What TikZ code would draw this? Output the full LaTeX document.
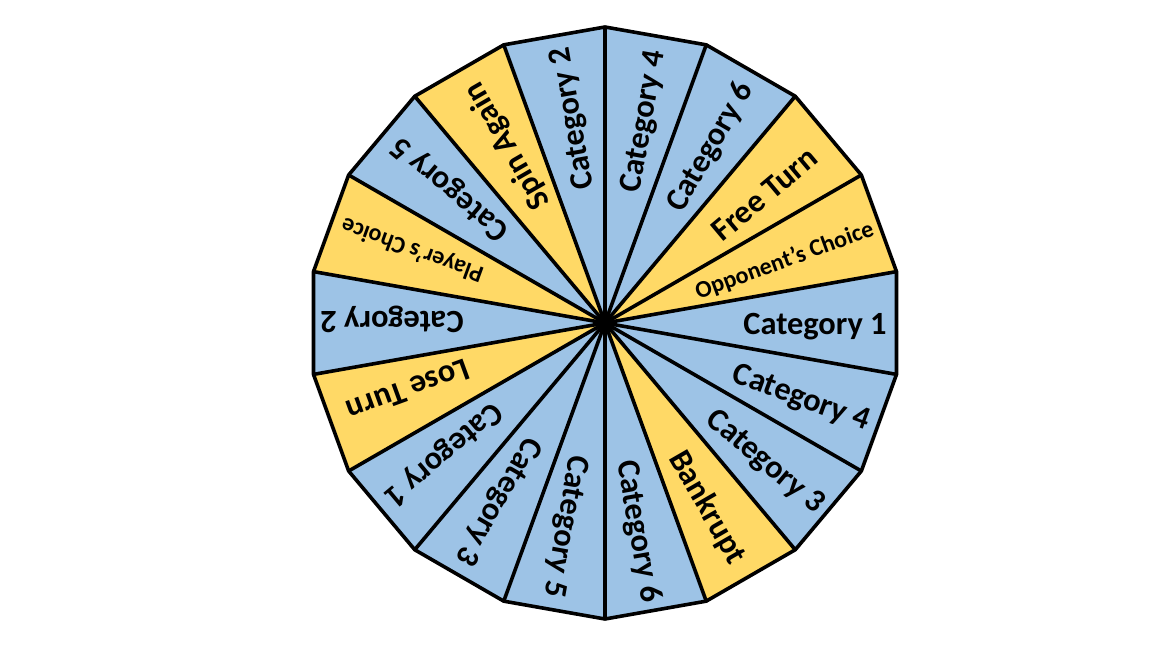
\documentclass[tikz,border=0pt]{standalone}
\usepackage{fontspec}
\setmainfont{Carlito}
\definecolor{wblue}{HTML}{9DC3E6}
\definecolor{wyellow}{HTML}{FFD966}
\begin{document}
\begin{tikzpicture}[x=0.8333pt,y=0.8333pt,
  edge/.style={draw=black,line width=3pt,line join=round},
  big/.style={font=\bfseries\fontsize{27}{32}\selectfont,inner sep=0pt},
  small/.style={font=\bfseries\fontsize{20}{24}\selectfont,inner sep=0pt}]
\useasboundingbox (-605,-325) rectangle (547,323);
\coordinate (c) at (0,0);
\def\R{296}
\foreach \a/\col in {0/wblue,20/wyellow,40/wyellow,60/wblue,80/wblue,100/wblue,120/wyellow,140/wblue,160/wyellow,180/wblue,200/wyellow,220/wblue,240/wblue,260/wblue,280/wblue,300/wyellow,320/wblue,340/wblue}
  {\fill[\col] (c) -- (\a-10:\R) -- (\a+10:\R) -- cycle;}
\foreach \a in {10,30,...,350} {\draw[edge] (c) -- (\a:\R);}
\draw[edge] (10:\R) \foreach \a in {30,50,...,350} {-- (\a:\R)} -- cycle;
\node[big,rotate=0]     (t0)   at ([shift={(-90:4)}]0:210)    {Category 1};
\node[small,rotate=20]  (t20)  at ([shift={(-70:3)}]20:190)   {Opponent’s Choice};
\node[big,rotate=40]    (t40)  at ([shift={(-50:4)}]40:205)   {Free Turn};
\node[big,rotate=60]    (t60)  at ([shift={(-30:4)}]60:205)   {Category 6};
\node[big,rotate=80]    (t80)  at ([shift={(-10:4)}]80:205)   {Category 4};
\node[big,rotate=100]   (t100) at ([shift={(10:4)}]100:207)   {Category 2};
\node[big,rotate=120]   (t120) at ([shift={(30:4)}]120:202)   {Spin Again};
\node[big,rotate=140]   (t140) at ([shift={(50:4)}]140:205)   {Category 5};
\node[small,rotate=160] (t160) at ([shift={(70:3)}]160:206)   {Player’s Choice};
\node[big,rotate=180]   (t180) at ([shift={(90:4)}]180:213)   {Category 2};
\node[big,rotate=200]   (t200) at ([shift={(110:4)}]200:208)  {Lose Turn};
\node[big,rotate=220]   (t220) at ([shift={(130:4)}]220:208)  {Category 1};
\node[big,rotate=240]   (t240) at ([shift={(150:4)}]240:208)  {Category 3};
\node[big,rotate=260]   (t260) at ([shift={(170:4)}]260:207)  {Category 5};
\node[big,rotate=280]   (t280) at ([shift={(190:4)}]280:211)  {Category 6};
\node[big,rotate=300]   (t300) at ([shift={(210:4)}]300:211)  {Bankrupt};
\node[big,rotate=320]   (t320) at ([shift={(230:4)}]320:212)  {Category 3};
\node[big,rotate=340]   (t340) at ([shift={(250:4)}]340:210)  {Category 4};
\end{tikzpicture}
\end{document}
